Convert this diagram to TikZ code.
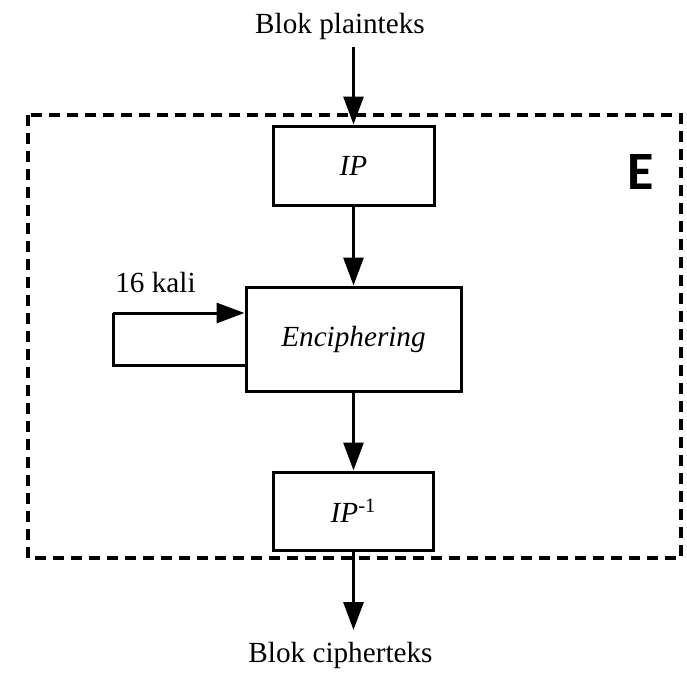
\documentclass[tikz,border=0pt]{standalone}
\usepackage{fontspec}
\setmainfont{Liberation Serif}
\newfontfamily\efont{Carlito}
\usetikzlibrary{arrows.meta}

\begin{document}
\begin{tikzpicture}
      [x=.5pt,y=-.5pt
      ,txt/.style={font=\fontsize{14.6}{17}\selectfont,inner sep=0}
      ,blk/.style={draw,line width=1.5pt,inner sep=0,font=\fontsize{14.6}{17}\selectfont\itshape}
      ,arr/.style={line width=1.5pt,-{Triangle[length=14pt,width=10pt]}}
      ,lin/.style={line width=1.5pt}]
        \useasboundingbox (0,0) rectangle (687,675);
        \coordinate (A0) at (353.5,47);
        \coordinate (A1) at (353.5,630);
        \coordinate (L0) at (113,365);
        \coordinate (L1) at (113,313);
        \draw[line width=1.7pt,dash pattern=on 5.5pt off 3.5pt] (28,115) rectangle (681,558);
        \node[txt,anchor=base] (plain) at (340,33){Blok plainteks};
        \node[txt,anchor=base] (cipher) at (340.5,662){Blok cipherteks};
        \node[blk,minimum width=80.5pt,minimum height=39.5pt] (ip) at (353.5,165.5){IP};
        \node[blk,minimum width=107.5pt,minimum height=52pt] (enc) at (353.5,339){Enciphering};
        \node[blk,minimum width=80pt,minimum height=39pt] (ipinv) at (353.5,511){IP\textsuperscript{\upshape -1}};
        \node[txt,anchor=base west] (kali) at (115,292){16 kali};
        \node[font=\efont\bfseries\fontsize{27}{30}\selectfont,inner sep=0] (E) at (641,172){E};
        \draw[arr] (A0) -- (ip);
        \draw[arr] (ip) -- (enc);
        \draw[arr] (enc) -- (ipinv);
        \draw[arr] (ipinv) -- (A1);
        \draw[lin] (enc.west |- L0) -- (L0) -- (L1);
        \draw[arr] (L1) -- (enc.west |- L1);
      \end{tikzpicture}
\end{document}
